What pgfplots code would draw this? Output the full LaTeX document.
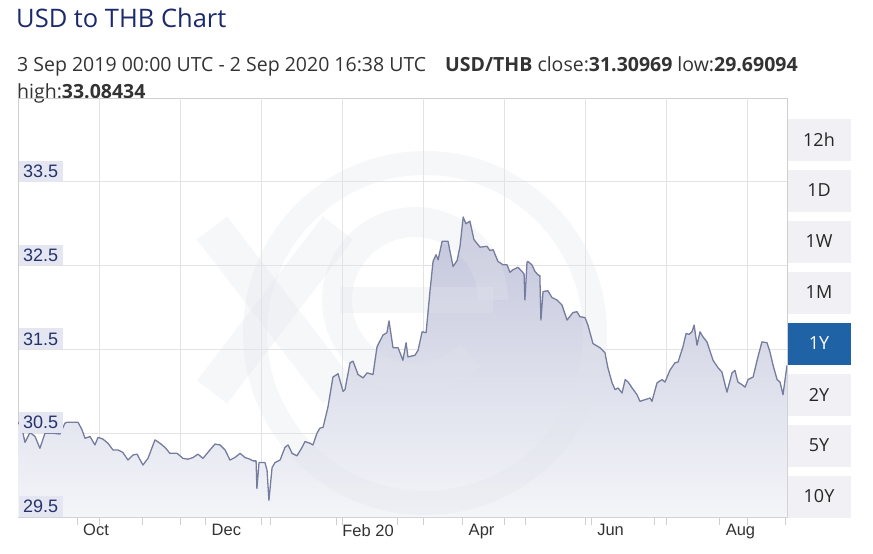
\documentclass[border=0pt]{standalone}
\usepackage{fontspec}
\setmainfont{Open Sans}
\newfontfamily\arialf{Liberation Sans}
\usepackage{pgfplots}
\usepackage{pgfplotstable}
\pgfplotsset{compat=1.18}
\definecolor{titlecol}{HTML}{1B2A6B}
\definecolor{subcol}{HTML}{333333}
\definecolor{linecol}{HTML}{767C9E}
\definecolor{filltop}{HTML}{C2C5DB}
\definecolor{fillbot}{HTML}{F4F5F9}
\definecolor{gridcol}{HTML}{E3E3E3}
\definecolor{axcol}{HTML}{CFCFCF}
\definecolor{lblbg}{HTML}{E4E6F1}
\definecolor{lblfg}{HTML}{27326A}
\definecolor{btnbg}{HTML}{F0F0F5}
\definecolor{btnsel}{HTML}{1F62A6}
\definecolor{wm}{HTML}{E2E4EC}
\tikzset{ylabels/.style={anchor=south west, xshift=0.5bp, fill=lblbg, text=lblfg,
     inner xsep=4.5bp, inner ysep=4bp, font=\arialf\fontsize{18bp}{20bp}\selectfont}}

% day = days since 3 Sep 2019, rate = USD/THB
\pgfplotstableread{
day rate
0 30.63
1.9 30.56
3.3 30.39
5.7 30.51
8.1 30.46
10.4 30.32
12.8 30.50
16.6 30.50
19.9 30.49
22.3 30.62
23.3 30.63
28.5 30.63
30.4 30.54
31.8 30.44
34.2 30.46
36.5 30.36
38.0 30.45
40.3 30.43
42.7 30.38
45.1 30.30
47.5 30.30
49.8 30.27
52.2 30.18
54.6 30.24
56.5 30.25
59.3 30.12
61.7 30.20
65.0 30.42
67.4 30.38
69.8 30.33
72.1 30.26
75.5 30.26
78.3 30.20
80.7 30.19
83.1 30.21
85.4 30.25
87.8 30.20
91.1 30.30
93.5 30.37
95.9 30.36
98.3 30.30
100.6 30.18
103.0 30.21
105.4 30.26
107.7 30.21
110.1 30.19
111.5 30.17
113.0 30.17
113.4 29.84
114.4 30.15
117.2 30.15
118.2 30.06
119.1 29.70
120.6 30.09
122.0 30.15
124.4 30.18
126.7 30.33
128.2 30.36
130.1 30.26
132.4 30.23
134.8 30.33
136.2 30.40
138.6 30.38
140.0 30.36
141.9 30.50
143.3 30.56
144.8 30.57
147.1 30.81
149.5 31.17
151.9 31.21
154.3 31.00
155.2 31.02
157.6 31.34
159.0 31.36
161.4 31.20
163.8 31.16
165.7 31.22
168.5 31.20
170.4 31.53
173.2 31.67
175.1 31.70
176.1 31.84
178.0 31.52
180.4 31.52
182.7 31.37
184.2 31.58
185.1 31.41
188.4 31.43
189.9 31.49
191.8 31.71
193.7 31.70
195.6 32.21
197.0 32.55
198.4 32.63
199.4 32.57
201.3 32.79
204.1 32.79
206.5 32.49
208.4 32.56
209.8 32.73
211.3 33.08
212.6 33.00
214.5 33.03
216.4 32.81
219.3 32.72
222.6 32.73
224.0 32.68
225.5 32.69
227.8 32.55
230.2 32.51
232.1 32.51
233.5 32.42
234.9 32.45
237.3 32.48
239.2 32.43
240.2 32.40
240.6 32.09
241.6 32.54
242.0 32.55
243.9 32.51
245.4 32.43
246.8 32.39
247.7 32.38
248.2 31.85
249.2 32.19
251.5 32.20
253.4 32.12
255.8 32.09
258.2 32.03
260.6 31.85
263.4 31.94
265.3 31.95
266.7 31.89
269.1 31.88
270.5 31.79
272.9 31.57
276.2 31.52
278.6 31.46
280.0 31.28
282.0 31.10
283.4 31.02
284.8 31.04
286.7 30.98
288.2 31.14
289.6 31.11
291.5 31.04
293.8 30.96
295.2 30.88
297.6 30.90
300.0 30.92
300.9 30.88
303.3 31.10
305.7 31.14
307.1 31.11
309.4 31.25
311.8 31.34
313.3 31.35
315.6 31.53
317.1 31.69
318.5 31.68
319.9 31.71
320.9 31.79
322.3 31.55
323.7 31.71
325.1 31.65
327.0 31.59
329.9 31.37
332.3 31.28
334.1 31.23
336.5 30.99
338.9 31.22
340.3 31.25
341.7 31.11
343.6 31.08
345.1 31.05
346.5 31.14
348.9 31.17
351.2 31.41
353.1 31.59
355.5 31.58
356.9 31.47
358.4 31.31
360.3 31.14
361.7 31.11
363.1 30.96
365.0 31.31
}\ratedata

\newcommand{\px}[2]{(rel axis cs:{(#1-18)/769},{(517-#2)/419})}

\begin{document}
\begin{tikzpicture}
\useasboundingbox (0,0) rectangle (873bp,-554bp);
% header
\node[anchor=base west, inner sep=0, text=titlecol, font=\fontsize{25.5bp}{30bp}\selectfont] at (16bp,-27bp) {USD to THB Chart};
\node[anchor=base west, inner sep=0, text=subcol, font=\fontsize{19.5bp}{22bp}\selectfont] at (17bp,-71bp) {3 Sep 2019 00:00 UTC - 2 Sep 2020 16:38 UTC\hspace{19bp}\textbf{USD/THB} close:\textbf{31.30969} low:\textbf{29.69094}};
\node[anchor=base west, inner sep=0, text=subcol, font=\fontsize{19.5bp}{22bp}\selectfont] at (17bp,-98bp) {high:\textbf{33.08434}};
% range buttons
\foreach \lab [count=\i from 0] in {12h,1D,1W,1M,1Y,2Y,5Y,10Y}{
  \pgfmathsetmacro{\yt}{118.5+51*\i}
  \ifnum\i=4
    \fill[btnsel] (787.5bp,-\yt bp) rectangle (851bp,-\yt bp-42.5bp);
    \node[text=white, font=\fontsize{18bp}{20bp}\selectfont] at (819bp,-\yt bp-21bp) {\lab};
  \else
    \fill[btnbg] (787.5bp,-\yt bp) rectangle (851bp,-\yt bp-42.5bp);
    \node[text=black!85, font=\fontsize{18bp}{20bp}\selectfont] at (819bp,-\yt bp-21bp) {\lab};
  \fi
}
\begin{axis}[
  at={(18bp,-517bp)}, anchor=south west,
  scale only axis, width=769bp, height=419bp,
  xmin=0, xmax=365, ymin=29.5, ymax=34.5,
  axis line style={draw=axcol, line width=0.8bp},
  major tick length=8bp,
  xtick={28,59,89,120,151,180,211,241,272,302,333,364},
  xticklabels={Oct,,Dec,,Feb 20,,Apr,,Jun,,Aug,},
  xtick pos=bottom, tick align=outside,
  x tick style={draw=axcol, line width=0.8bp},
  xticklabel style={anchor=north west, xshift=4bp, yshift=3bp, inner sep=2bp,
     text=subcol, font=\arialf\fontsize{16.5bp}{18bp}\selectfont},
  extra x ticks={38.45,76.9,115.35,153.8,192.25,230.7,269.15,307.6,346.05},
  extra x tick labels={},
  extra x tick style={grid=major, tick style={draw=none}},
  ytick={29.5,30.5,31.5,32.5,33.5,34.5},
  yticklabels={},
  ytick pos=left,
  y tick style={draw=none},
  ymajorgrids,
  grid style={draw=gridcol, line width=0.8bp},
]
\addplot[draw=none, top color=filltop, bottom color=fillbot] table[x=day,y=rate]{\ratedata} \closedcycle;
% watermark
\begin{scope}[draw=wm, opacity=0.3, line cap=butt]
  \draw[line width=24bp] \px{425}{333} circle[radius=170bp];
  \draw[line width=30bp] \px{493}{300} arc[start angle=0, end angle=315, radius=78bp];
  \draw[line width=26bp] \px{340}{300} -- \px{493}{300};
  \draw[line width=38bp] \px{212}{228} -- \px{338}{392};
  \draw[line width=38bp] \px{212}{392} -- \px{338}{228};
\end{scope}
\addplot[draw=linecol, line width=1.3bp, line join=round] table[x=day,y=rate]{\ratedata};
\node[ylabels] at (axis cs:0,29.5) {29.5};
\node[ylabels] at (axis cs:0,30.5) {30.5};
\node[ylabels] at (axis cs:0,31.5) {31.5};
\node[ylabels] at (axis cs:0,32.5) {32.5};
\node[ylabels] at (axis cs:0,33.5) {33.5};
\end{axis}
\end{tikzpicture}
\end{document}
